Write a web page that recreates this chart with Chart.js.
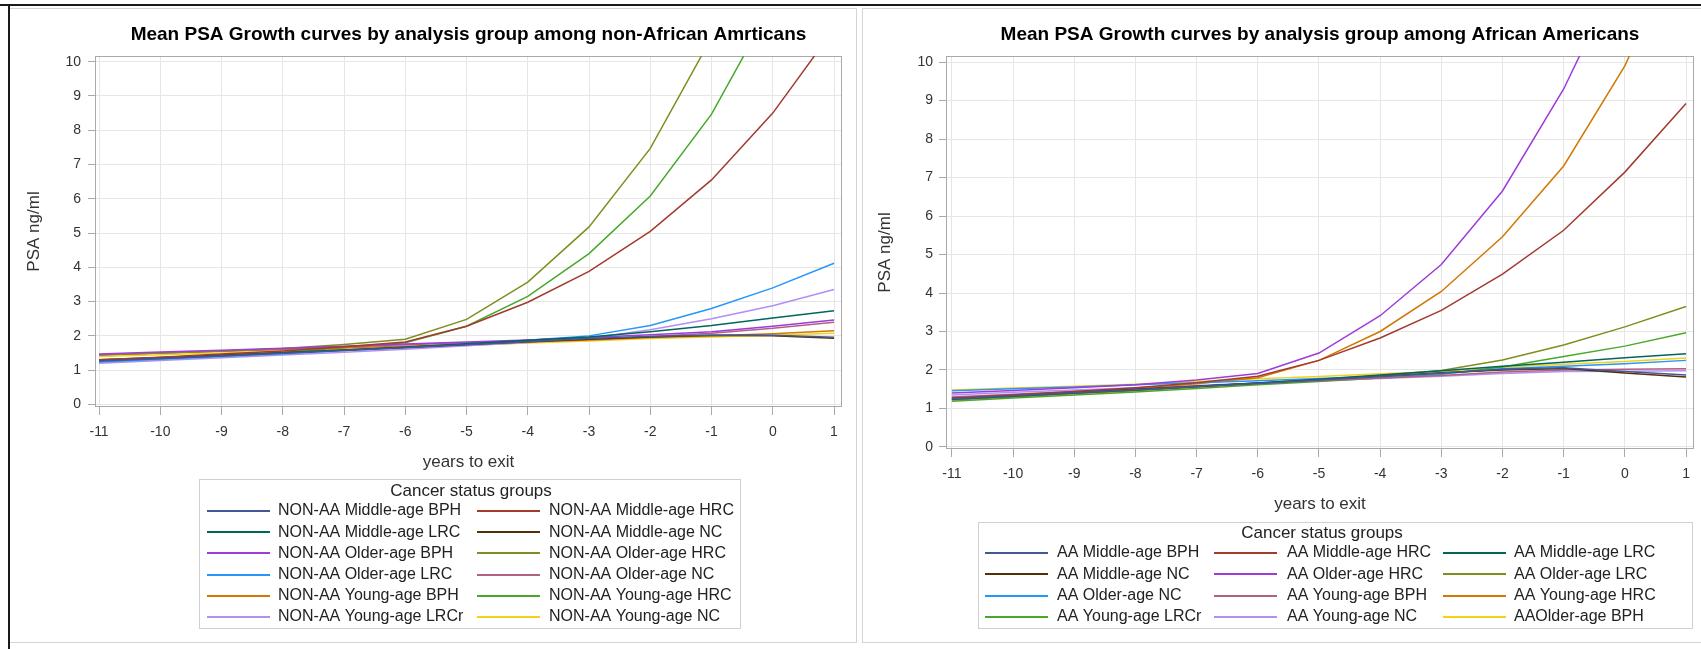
<!DOCTYPE html>
<html>
<head>
<meta charset="utf-8">
<title>Mean PSA Growth curves</title>
<script src="https://cdn.jsdelivr.net/npm/chart.js@4.4.1/dist/chart.umd.min.js"></script>
<style>
  html, body { margin: 0; padding: 0; background: #fff; }
  #page { position: relative; width: 1701px; height: 649px; overflow: hidden; background: #fff; }
  .rule { position: absolute; box-sizing: border-box; }
  canvas { position: absolute; top: 0; }
</style>
</head>
<body>
<div id="page">
  <div class="rule" style="left:0;top:4px;width:1701px;height:2px;background:#1a1a1a"></div>
  <div class="rule" style="left:8px;top:4px;width:2px;height:645px;background:#1a1a1a"></div>
  <div class="rule" style="left:10px;top:8px;width:847px;height:635px;border:1px solid #d4d4d4;border-left:none"></div>
  <div class="rule" style="left:862px;top:8px;width:850px;height:635px;border:1px solid #d4d4d4"></div>
  <canvas id="nonAaChart" width="858" height="649" style="left:0"></canvas>
  <canvas id="aaChart" width="843" height="649" style="left:858px"></canvas>
</div>
<script>
// Years relative to exit (x axis)
const years = [-11, -10, -9, -8, -7, -6, -5, -4, -3, -2, -1, 0, 1];

// Mean PSA (ng/ml) by year, non-African American groups
const nonAaMiddleBph  = [1.27, 1.34, 1.41, 1.49, 1.57, 1.65, 1.74, 1.83, 1.92, 1.98, 2.02, 2.02, 1.96];
const nonAaMiddleHrc  = [1.30, 1.38, 1.47, 1.56, 1.68, 1.82, 2.28, 2.98, 3.88, 5.05, 6.55, 8.50, 10.95];
const nonAaMiddleLrc  = [1.28, 1.35, 1.43, 1.51, 1.59, 1.67, 1.77, 1.87, 1.97, 2.12, 2.30, 2.52, 2.73];
const nonAaMiddleNc   = [1.30, 1.37, 1.44, 1.51, 1.59, 1.67, 1.75, 1.83, 1.90, 1.97, 2.02, 2.00, 1.93];
const nonAaOlderBph   = [1.47, 1.53, 1.58, 1.64, 1.70, 1.76, 1.82, 1.88, 1.95, 2.03, 2.12, 2.28, 2.46];
const nonAaOlderHrc   = [1.45, 1.50, 1.56, 1.63, 1.75, 1.90, 2.48, 3.57, 5.18, 7.47, 10.70, 15.30, 21.80];
const nonAaOlderLrc   = [1.24, 1.32, 1.40, 1.48, 1.57, 1.66, 1.76, 1.87, 2.00, 2.30, 2.80, 3.40, 4.12];
const nonAaOlderNc    = [1.44, 1.50, 1.56, 1.62, 1.68, 1.74, 1.80, 1.85, 1.90, 1.98, 2.08, 2.22, 2.40];
const nonAaYoungBph   = [1.45, 1.50, 1.55, 1.60, 1.65, 1.70, 1.76, 1.82, 1.88, 1.95, 2.00, 2.06, 2.15];
const nonAaYoungHrc   = [1.25, 1.33, 1.42, 1.52, 1.65, 1.80, 2.28, 3.15, 4.40, 6.08, 8.47, 11.70, 16.20];
const nonAaYoungLrcr  = [1.20, 1.28, 1.36, 1.44, 1.52, 1.61, 1.71, 1.81, 1.93, 2.18, 2.50, 2.88, 3.35];
const nonAaYoungNc    = [1.40, 1.45, 1.50, 1.55, 1.61, 1.67, 1.73, 1.79, 1.85, 1.92, 1.97, 2.02, 2.08];

// Mean PSA (ng/ml) by year, African American groups
const aaMiddleBph     = [1.25, 1.33, 1.41, 1.49, 1.57, 1.65, 1.74, 1.83, 1.92, 2.02, 2.06, 1.96, 1.87];
const aaMiddleHrc     = [1.27, 1.35, 1.44, 1.54, 1.67, 1.84, 2.25, 2.83, 3.55, 4.49, 5.63, 7.14, 8.92];
const aaMiddleLrc     = [1.24, 1.32, 1.40, 1.48, 1.57, 1.66, 1.76, 1.87, 1.98, 2.10, 2.20, 2.32, 2.42];
const aaMiddleNc      = [1.26, 1.34, 1.42, 1.50, 1.58, 1.66, 1.75, 1.84, 1.93, 2.00, 2.04, 1.92, 1.82];
const aaOlderHrc      = [1.40, 1.47, 1.54, 1.62, 1.74, 1.91, 2.44, 3.41, 4.74, 6.65, 9.30, 12.60, 17.00];
const aaOlderLrc      = [1.22, 1.30, 1.38, 1.46, 1.55, 1.64, 1.74, 1.86, 1.99, 2.26, 2.65, 3.12, 3.65];
const aaOlderNc       = [1.46, 1.51, 1.56, 1.62, 1.67, 1.72, 1.78, 1.84, 1.90, 2.03, 2.10, 2.16, 2.25];
const aaYoungBph      = [1.30, 1.37, 1.44, 1.51, 1.58, 1.65, 1.72, 1.79, 1.86, 1.95, 2.00, 2.02, 2.03];
const aaYoungHrc      = [1.25, 1.33, 1.42, 1.52, 1.64, 1.80, 2.25, 3.00, 4.04, 5.46, 7.30, 9.90, 13.40];
const aaYoungLrcr     = [1.19, 1.27, 1.35, 1.43, 1.52, 1.62, 1.70, 1.79, 1.89, 2.08, 2.35, 2.62, 2.97];
const aaYoungNc       = [1.35, 1.42, 1.48, 1.54, 1.60, 1.66, 1.72, 1.78, 1.84, 1.91, 1.96, 1.97, 1.98];
const aaOlderBph      = [1.48, 1.53, 1.58, 1.63, 1.70, 1.77, 1.83, 1.90, 1.96, 2.07, 2.15, 2.22, 2.31];

// Group labels, in legend order
const nonAaLabels = [
  'NON-AA Middle-age BPH', 'NON-AA Middle-age HRC', 'NON-AA Middle-age LRC', 'NON-AA Middle-age NC',
  'NON-AA Older-age BPH', 'NON-AA Older-age HRC', 'NON-AA Older-age LRC', 'NON-AA Older-age NC',
  'NON-AA Young-age BPH', 'NON-AA Young-age HRC', 'NON-AA Young-age LRCr', 'NON-AA Young-age NC'
];
const aaLabels = [
  'AA Middle-age BPH', 'AA Middle-age HRC', 'AA Middle-age LRC', 'AA Middle-age NC',
  'AA Older-age HRC', 'AA Older-age LRC', 'AA Older-age NC', 'AA Young-age BPH',
  'AA Young-age HRC', 'AA Young-age LRCr', 'AA Young-age NC', 'AAOlder-age BPH'
];
const nonAaSeries = [nonAaMiddleBph, nonAaMiddleHrc, nonAaMiddleLrc, nonAaMiddleNc, nonAaOlderBph, nonAaOlderHrc,
                     nonAaOlderLrc, nonAaOlderNc, nonAaYoungBph, nonAaYoungHrc, nonAaYoungLrcr, nonAaYoungNc];
const aaSeries = [aaMiddleBph, aaMiddleHrc, aaMiddleLrc, aaMiddleNc, aaOlderHrc, aaOlderLrc,
                  aaOlderNc, aaYoungBph, aaYoungHrc, aaYoungLrcr, aaYoungNc, aaOlderBph];

// Line colours, cycled per group
const palette = ['#445694', '#A23A2E', '#01665E', '#543005', '#9D3CDB', '#7F8E1F',
                 '#2597FA', '#B26084', '#D17800', '#47A82A', '#B38EF3', '#F2D21B'];

const FONT = '"Liberation Sans", Arial, Helvetica, sans-serif';
Chart.defaults.font.family = FONT;
Chart.defaults.color = '#333';

// Draws a thin frame around the plotting area, under the curves
const plotFrame = {
  id: 'plotFrame',
  beforeDatasetsDraw(chart) {
    const a = chart.chartArea, ctx = chart.ctx;
    ctx.save();
    ctx.strokeStyle = '#a9a9a9';
    ctx.lineWidth = 1;
    ctx.strokeRect(Math.round(a.left) - 0.5, Math.round(a.top) + 0.5,
                   Math.round(a.right - a.left) + 1, Math.round(a.bottom - a.top) - 1);
    ctx.restore();
  }
};

// Boxed grid legend with a caption, items laid out row by row
const groupLegend = {
  id: 'groupLegend',
  afterDraw(chart, args, opts) {
    const ctx = chart.ctx, b = opts.box;
    ctx.save();
    ctx.strokeStyle = '#d0d0d0';
    ctx.lineWidth = 1;
    ctx.strokeRect(b.x + 0.5, b.y + 0.5, b.w, b.h);
    ctx.fillStyle = '#222';
    ctx.textBaseline = 'middle';
    ctx.textAlign = 'center';
    ctx.font = opts.titleSize + 'px ' + FONT;
    ctx.fillText(opts.title, opts.titleX, opts.titleY);
    ctx.textAlign = 'left';
    ctx.font = opts.itemSize + 'px ' + FONT;
    const n = opts.cols.length;
    chart.data.datasets.forEach((ds, i) => {
      const col = opts.cols[i % n];
      const y = opts.firstRowY + Math.floor(i / n) * opts.rowStep;
      ctx.strokeStyle = ds.borderColor;
      ctx.lineWidth = 2;
      ctx.beginPath();
      ctx.moveTo(col.lineX, Math.round(y));
      ctx.lineTo(col.lineX + opts.lineW, Math.round(y));
      ctx.stroke();
      ctx.fillStyle = '#222';
      ctx.fillText(ds.label, col.textX, y);
    });
    ctx.restore();
  }
};

function makeDatasets(labels, series) {
  return labels.map((label, i) => ({
    label,
    data: years.map((x, j) => ({ x, y: series[i][j] })),
    borderColor: palette[i],
    backgroundColor: palette[i],
    borderWidth: 1.5,
    pointRadius: 0,
    tension: 0,
    fill: false
  }));
}

function makeChart(canvasId, cfg) {
  return new Chart(document.getElementById(canvasId), {
    type: 'line',
    data: { datasets: makeDatasets(cfg.labels, cfg.series) },
    plugins: [plotFrame, groupLegend],
    options: {
      responsive: false,
      animation: false,
      events: [],
      layout: { padding: cfg.padding },
      plugins: {
        legend: { display: false },
        tooltip: { enabled: false },
        title: {
          display: true,
          text: cfg.title,
          fullSize: false,
          color: '#000',
          font: { size: 19, weight: 'bold', family: FONT, lineHeight: 1.2 },
          padding: { top: 23.6, bottom: 9.6 }
        },
        groupLegend: cfg.legend
      },
      scales: {
        x: {
          type: 'linear',
          min: cfg.xMin,
          max: cfg.xMax,
          border: { display: false },
          grid: { color: '#e6e6e6', tickColor: '#a9a9a9', tickLength: 8, lineWidth: 1 },
          ticks: {
            stepSize: 1, includeBounds: false, autoSkip: false, maxRotation: 0,
            padding: cfg.xTickPad, color: '#333', font: { size: 14 },
            callback: v => String(v)
          },
          title: {
            display: true, text: 'years to exit', color: '#333',
            font: { size: 17 }, padding: { top: 0, bottom: 4 }
          },
          afterFit: s => { s.height = 70; }
        },
        y: {
          type: 'linear',
          min: cfg.yMin,
          max: cfg.yMax,
          border: { display: false },
          grid: { color: '#e6e6e6', tickColor: '#a9a9a9', tickLength: 8, lineWidth: 1 },
          ticks: {
            stepSize: 1, includeBounds: false, padding: cfg.yTickPad,
            color: '#333', font: { size: 14 },
            callback: v => String(v)
          },
          title: {
            display: true, text: 'PSA ng/ml', color: '#333',
            font: { size: 17 }, padding: { top: cfg.yTitlePad, bottom: 0 }
          },
          afterFit: s => { s.width = cfg.yAxisWidth; }
        }
      }
    }
  });
}

makeChart('nonAaChart', {
  title: 'Mean PSA Growth curves by analysis group among non-African Amrticans',
  labels: nonAaLabels,
  series: nonAaSeries,
  padding: { left: 10, right: 17, top: 0, bottom: 172 },
  xMin: -11.05, xMax: 1.114, yMin: -0.075, yMax: 10.165,
  xTickPad: 9, yTickPad: 7, yTitlePad: 14, yAxisWidth: 86,
  legend: {
    box: { x: 199, y: 479, w: 541, h: 149 },
    title: 'Cancer status groups', titleSize: 17, titleX: 471, titleY: 491,
    itemSize: 16, firstRowY: 511, rowStep: 21.2, lineW: 63,
    cols: [{ lineX: 207, textX: 278 }, { lineX: 477, textX: 549 }]
  }
});

makeChart('aaChart', {
  title: 'Mean PSA Growth curves by analysis group among African Americans',
  labels: aaLabels,
  series: aaSeries,
  padding: { left: 5, right: 8, top: 0, bottom: 130 },
  xMin: -11.08, xMax: 1.114, yMin: -0.052, yMax: 10.156,
  xTickPad: 9, yTickPad: 6, yTitlePad: 12, yAxisWidth: 84,
  legend: {
    box: { x: 120, y: 522, w: 714, h: 106 },
    title: 'Cancer status groups', titleSize: 17, titleX: 464, titleY: 533,
    itemSize: 16, firstRowY: 553, rowStep: 21.3, lineW: 63,
    cols: [{ lineX: 127, textX: 199 }, { lineX: 356, textX: 429 }, { lineX: 585, textX: 656 }]
  }
});
</script>
</body>
</html>
